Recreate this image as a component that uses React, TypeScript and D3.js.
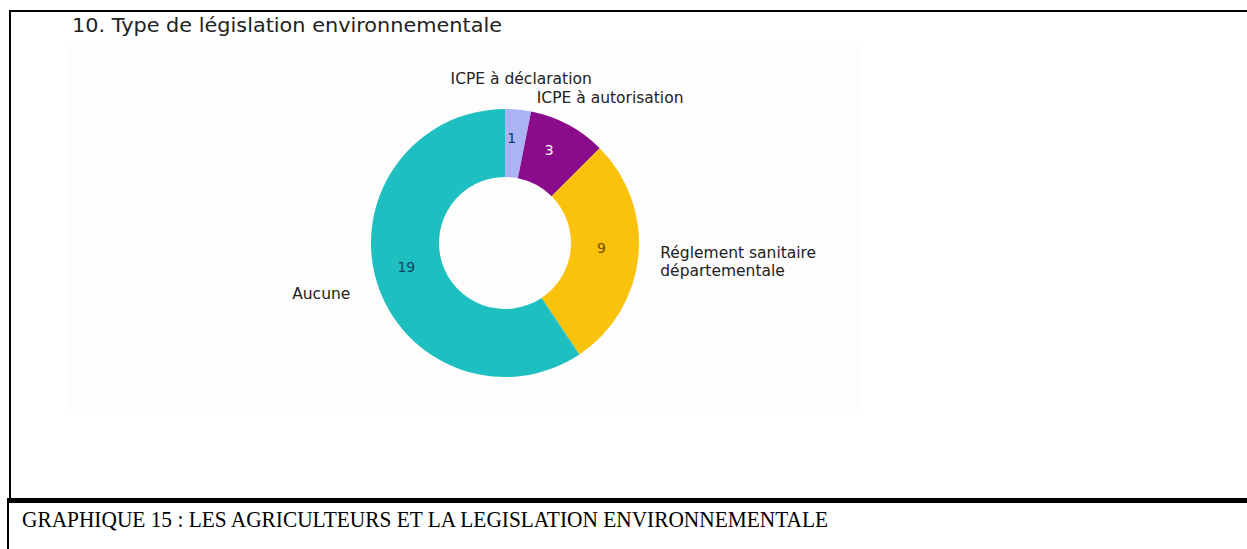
import React from "react";
import * as d3 from "d3";

const categories = ["ICPE à déclaration", "ICPE à autorisation", "Réglement sanitaire départementale", "Aucune"];
const values = [1, 3, 9, 19];
const colors = ["#aab4f4", "#8b0c8b", "#fbc20c", "#1ebfc0"];
const valueColors = ["#23306a", "#ffffff", "#6e4c00", "#0f4660"];
const labelLines = [["ICPE à déclaration"], ["ICPE à autorisation"], ["Réglement sanitaire", "départementale"], ["Aucune"]];
const title = "10. Type de législation environnementale";
const caption = "GRAPHIQUE 15 : LES AGRICULTEURS ET LA LEGISLATION ENVIRONNEMENTALE";

const W = 1247;
const H = 549;
const cx = 505;
const cy = 243;
const rOuter = 134;
const rInner = 66;

// label layout (anchor + offset relative to an outer-arc point)
const labelLayout = [
  { anchor: "middle", dx: 0, dy: 0, r: 165 },
  { anchor: "start", dx: -46, dy: 0, r: 165 },
  { anchor: "start", dx: 1, dy: -6, r: 155 },
  { anchor: "end", dx: 8, dy: 1, r: 170 },
];

export default function App() {
  const pie = d3.pie<number>().sort(null).value((d) => d)(values);
  const arc = d3.arc<d3.PieArcDatum<number>>().innerRadius(rInner).outerRadius(rOuter);
  const font = "'DejaVu Sans', Verdana, sans-serif";
  return (
    <svg width={W} height={H} style={{ position: "absolute", left: 0, top: 0, background: "#fff" }}>
      <rect x={68} y={45} width={792} height={365} fill="#fdfdfd" />
      {/* borders */}
      <line x1={9} y1={11} x2={W} y2={11} stroke="#000" strokeWidth={2} />
      <line x1={10} y1={10} x2={10} y2={498} stroke="#000" strokeWidth={2} />
      <line x1={7} y1={500.5} x2={W} y2={500.5} stroke="#000" strokeWidth={5} />
      <line x1={8} y1={498} x2={8} y2={H} stroke="#000" strokeWidth={2} />
      <text x={72} y={32} fontFamily={font} fontSize={20} fill="#222" textLength={430} lengthAdjust="spacingAndGlyphs">
        {title}
      </text>
      <g transform={`translate(${cx},${cy})`}>
        {pie.map((p, i) => (
          <path key={categories[i]} d={arc(p) || ""} fill={colors[i]} />
        ))}
        {pie.map((p, i) => {
          const [x, y] = arc.centroid(p);
          return (
            <text key={"v" + i} x={x - 3} y={y - 5} textAnchor="middle" dominantBaseline="central" fontFamily={font} fontSize={14} fill={valueColors[i]}>
              {values[i]}
            </text>
          );
        })}
        {pie.map((p, i) => {
          const L = labelLayout[i];
          const a = (p.startAngle + p.endAngle) / 2;
          const x = Math.sin(a) * L.r + L.dx;
          const y = -Math.cos(a) * L.r + L.dy;
          return (
            <text key={"l" + i} x={x} y={y} textAnchor={L.anchor} fontFamily={font} fontSize={15.5} fill="#222">
              {labelLines[i].map((ln, j) => (
                <tspan key={j} x={x} dy={j === 0 ? "0.35em" : 18}>
                  {ln}
                </tspan>
              ))}
            </text>
          );
        })}
      </g>
      <text x={22} y={527} fontFamily="'Liberation Serif', 'Times New Roman', serif" fontSize={23} fill="#000" textLength={806} lengthAdjust="spacingAndGlyphs">
        {caption}
      </text>
    </svg>
  );
}
